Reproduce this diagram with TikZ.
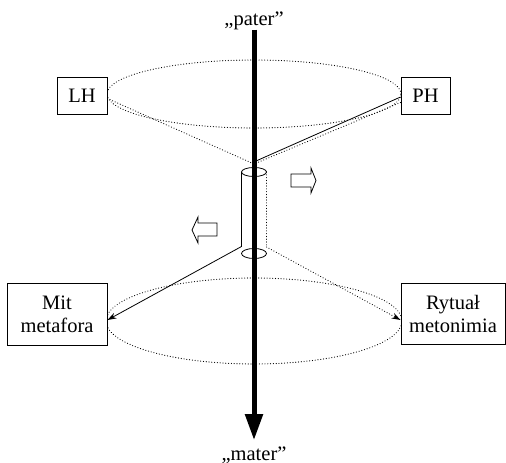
\documentclass[tikz,border=0pt]{standalone}
\usepackage{fontspec}
\setmainfont{Liberation Serif}
\usetikzlibrary{arrows.meta}
\begin{document}
\begin{tikzpicture}[x=1pt,y=-1pt,
  every node/.style={font=\fontsize{20.5}{23}\selectfont},
  box/.style={draw, line width=0.9pt, fill=white, inner sep=0pt, align=center},
  label/.style={inner sep=0pt, anchor=base},
  wire/.style={line width=0.8pt},
  dots/.style={line width=1.1pt, line cap=round, dash pattern=on 0.1pt off 2.7pt},
  hollow/.style={draw, line width=0.8pt, fill=white, line join=miter},
  tip/.style={-{Stealth[length=9pt,width=6pt]}}]
\useasboundingbox (0,0) rectangle (506,463);

% the two dotted rims of the cones
\draw[dots] (254,94) ellipse [x radius=147pt, y radius=34pt];
\draw[dots] (254,321) ellipse [x radius=148pt, y radius=43pt];

% boxes
\node[box, minimum width=50pt, minimum height=37pt] (lh) at (82,95.5) {LH};
\node[box, minimum width=49pt, minimum height=37pt] (ph) at (425.5,95.5) {PH};
\node[box, minimum width=100pt, minimum height=62pt] (mit) at (57,314) {Mit\\metafora};
\node[box, minimum width=104pt, minimum height=61pt] (ryt) at (453,313.5) {Rytuał\\metonimia};

% axis labels
\node[label] (pater) at (254,25) {„pater”};
\node[label] (mater) at (254,460) {„mater”};

% cylinder points
\coordinate (apex) at (254,164);
\coordinate (ptip) at (256,161);
\coordinate (ctop) at (254,172);
\coordinate (cbot) at (254,253.5);
\coordinate (tl) at (241.5,172);
\coordinate (tr) at (266.5,172);
\coordinate (bl) at (241.5,246.5);
\coordinate (br) at (266.5,247);

% upper cone
\draw[dots] ([yshift=-3pt]lh.east) -- (apex);
\draw[dots] ([yshift=-7pt]ph.west) -- (apex);
\draw[wire] ([yshift=-1.5pt]ph.west) -- (ptip);

% cylinder
\draw[wire] (ctop) ellipse [x radius=12.5pt, y radius=4.5pt];
\draw[wire] (cbot) ellipse [x radius=12.5pt, y radius=5pt];
\draw[wire] (tl) -- (bl);
\draw[dots] (tr) -- (br);

% lower cone
\draw[wire, tip] (bl) -- ([yshift=-6pt]mit.east);
\draw[dots, tip] (br) -- ([yshift=-6.5pt]ryt.west);

% main axis
\draw[line width=5pt, shorten >=6pt, -{Triangle[length=26pt,width=17pt]}] (pater.south) -- (mater.north);

% hollow block arrows
\draw[hollow] (291,174) -- (311,174) -- (311,168) -- (316,180.5) -- (311,193) -- (311,187) -- (291,187) -- cycle;
\draw[hollow] (217,223) -- (198,223) -- (198,217) -- (192,230) -- (198,243) -- (198,236) -- (217,236) -- cycle;
\end{tikzpicture}
\end{document}
